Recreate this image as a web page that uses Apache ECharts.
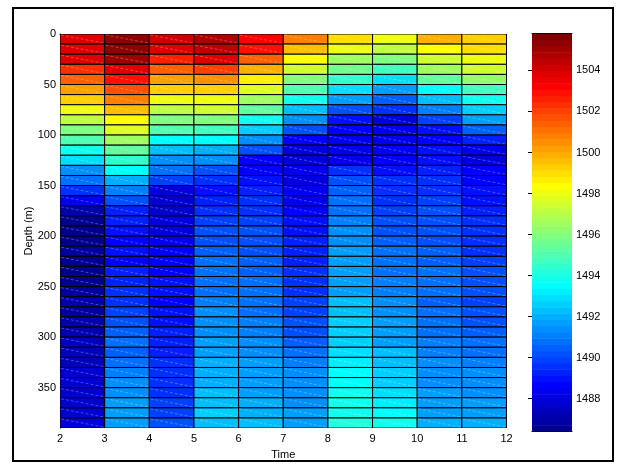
<!DOCTYPE html>
<html>
<head>
<meta charset="utf-8">
<script src="https://cdn.jsdelivr.net/npm/echarts@6/dist/echarts.min.js"></script>
<style>
  html, body { margin: 0; padding: 0; background: #fff; }
  #chart { width: 626px; height: 465px; }
</style>
</head>
<body>
<div id="chart"></div>
<script>
// Cell edges along time and depth
const timeEdges = [2, 3, 4, 5, 6, 7, 8, 9, 10, 11, 12];
const depthEdges = [0, 10, 20, 30, 40, 50, 60, 70, 80, 90, 100, 110, 120, 130, 140, 150, 160, 170, 180, 190,
  200, 210, 220, 230, 240, 250, 260, 270, 280, 290, 300, 310, 320, 330, 340, 350, 360, 370, 380, 390];

// Sound speed (m/s), one list per time step, top to bottom
const speedT2 = [1503.9, 1503.9, 1503.8, 1502.4, 1501.4, 1500.3, 1499.2, 1498.2, 1497.3, 1496.1, 1494.9, 1493.8, 1492.8,
  1491.5, 1490.8, 1489.55, 1488.3, 1487.15, 1486.55, 1486.5, 1486.55, 1486.85, 1486.6, 1486.7, 1486.6, 1486.85,
  1487.1, 1487.0, 1487.1, 1487.2, 1487.4, 1487.4, 1487.5, 1487.7, 1487.8, 1487.8, 1487.8, 1487.9, 1488.0];
const speedT3 = [1505.3, 1505.3, 1504.9, 1503.8, 1502.8, 1501.7, 1500.7, 1499.6, 1498.5, 1497.7, 1496.7, 1495.4, 1494.3,
  1493.5, 1492.1, 1491.25, 1490.3, 1489.4, 1489.2, 1489.0, 1488.6, 1489.1, 1488.8, 1489.4, 1489.4, 1489.6,
  1489.7, 1489.9, 1490.3, 1490.5, 1490.7, 1490.5, 1490.9, 1491.1, 1491.3, 1491.4, 1491.6, 1491.6, 1491.7];
const speedT4 = [1504.0, 1503.9, 1502.6, 1501.3, 1500.3, 1499.4, 1498.2, 1497.3, 1496.1, 1494.9, 1493.6, 1492.4, 1491.5,
  1490.9, 1489.9, 1488.1, 1487.9, 1487.8, 1488.1, 1488.1, 1488.4, 1488.6, 1488.8, 1488.7, 1488.9, 1488.9,
  1488.8, 1489.0, 1489.0, 1489.2, 1489.2, 1489.4, 1489.5, 1489.5, 1489.7, 1489.7, 1489.9, 1489.9, 1490.3];
const speedT5 = [1504.7, 1504.3, 1503.7, 1501.9, 1500.5, 1499.4, 1498.2, 1497.5, 1496.1, 1494.8, 1493.5, 1492.1, 1491.3,
  1490.3, 1489.55, 1489.1, 1489.4, 1489.5, 1489.9, 1490.1, 1490.3, 1490.5, 1490.7, 1490.7, 1490.7, 1490.7,
  1491.1, 1491.3, 1491.3, 1491.4, 1491.6, 1491.8, 1492.0, 1492.1, 1492.0, 1492.2, 1492.2, 1492.6, 1492.4];
const speedT6 = [1503.1, 1502.8, 1501.4, 1500.0, 1498.8, 1497.85, 1496.7, 1495.2, 1493.7, 1492.6, 1491.5, 1490.1, 1488.8,
  1488.7, 1489.0, 1489.4, 1489.5, 1489.7, 1489.9, 1490.1, 1490.1, 1490.3, 1490.5, 1490.5, 1490.7, 1490.7,
  1490.9, 1490.9, 1491.1, 1491.1, 1491.3, 1491.4, 1491.6, 1491.6, 1491.8, 1491.8, 1492.0, 1492.0, 1492.2];
const speedT7 = [1500.7, 1499.6, 1498.5, 1497.5, 1496.1, 1494.9, 1493.7, 1492.4, 1491.5, 1490.3, 1488.6, 1488.1, 1488.0,
  1488.3, 1488.1, 1488.3, 1488.5, 1488.7, 1489.0, 1489.0, 1489.2, 1489.4, 1489.4, 1489.5, 1489.7, 1489.7,
  1489.9, 1489.9, 1490.1, 1490.3, 1490.5, 1490.7, 1491.1, 1491.3, 1491.3, 1491.4, 1491.4, 1491.6, 1491.6];
const speedT8 = [1498.9, 1498.0, 1496.7, 1495.6, 1494.45, 1493.0, 1491.6, 1490.3, 1489.1, 1488.6, 1488.3, 1488.5, 1488.5,
  1489.7, 1490.1, 1490.5, 1490.7, 1490.9, 1491.1, 1491.3, 1491.3, 1491.6, 1491.6, 1491.8, 1491.6, 1491.8,
  1492.4, 1492.2, 1492.5, 1492.6, 1492.7, 1493.0, 1493.1, 1493.4, 1493.5, 1493.7, 1493.9, 1493.9, 1494.2];
const speedT9 = [1498.0, 1497.1, 1496.0, 1494.65, 1492.9, 1491.6, 1490.5, 1489.5, 1488.1, 1488.3, 1488.3, 1488.6, 1488.7,
  1489.0, 1489.5, 1489.5, 1489.7, 1489.9, 1490.1, 1490.3, 1490.5, 1490.7, 1490.7, 1490.9, 1491.1, 1491.1,
  1491.3, 1491.4, 1491.6, 1491.8, 1491.8, 1492.2, 1492.2, 1492.6, 1492.6, 1492.8, 1493.2, 1493.4, 1493.7];
const speedT10 = [1499.9, 1498.5, 1497.6, 1496.5, 1495.4, 1493.5, 1492.4, 1491.1, 1489.9, 1489.1, 1488.8, 1489.0, 1489.0,
  1489.4, 1489.7, 1489.7, 1489.9, 1490.1, 1490.3, 1490.3, 1490.3, 1490.5, 1490.5, 1490.7, 1490.7, 1490.7,
  1490.5, 1490.7, 1490.7, 1490.9, 1491.1, 1491.1, 1491.3, 1491.4, 1491.4, 1491.6, 1491.6, 1491.8, 1492.0];
const speedT11 = [1499.3, 1499.1, 1498.2, 1497.5, 1496.3, 1494.8, 1493.7, 1492.6, 1491.6, 1490.5, 1489.4, 1488.3, 1488.2,
  1488.7, 1488.7, 1489.0, 1489.0, 1489.4, 1489.5, 1489.5, 1489.7, 1489.7, 1489.9, 1490.1, 1490.1, 1490.3,
  1489.9, 1490.1, 1490.3, 1490.5, 1490.7, 1490.9, 1491.1, 1491.3, 1491.3, 1491.4, 1491.6, 1491.8, 1492.0];

const speedColumns = [speedT2, speedT3, speedT4, speedT5, speedT6, speedT7, speedT8, speedT9, speedT10, speedT11];

// Colour limits and colourbar tick labels
const colorMin = 1486.4;
const colorMax = 1505.8;
const colorTicks = [1488, 1490, 1492, 1494, 1496, 1498, 1500, 1502, 1504];
const depthTicks = [0, 50, 100, 150, 200, 250, 300, 350];

// 64-entry jet colormap
function buildJet(m) {
  const n = Math.ceil(m / 4);
  const u = [];
  for (let i = 1; i <= n; i++) u.push(i / n);
  for (let i = 1; i < n; i++) u.push(1);
  for (let i = n; i >= 1; i--) u.push(i / n);
  const start = Math.ceil(n / 2) - (m % 4 === 1 ? 1 : 0);
  const map = [];
  for (let i = 0; i < m; i++) map.push([0, 0, 0]);
  for (let k = 0; k < u.length; k++) {
    const g = start + k + 1, r = g + n, b = g - n;
    if (r >= 1 && r <= m) map[r - 1][0] = u[k];
    if (g >= 1 && g <= m) map[g - 1][1] = u[k];
    if (b >= 1 && b <= m) map[b - 1][2] = u[k];
  }
  return map.map(c => 'rgb(' + c.map(x => Math.round(x * 255)).join(',') + ')');
}
const jet = buildJet(64);
function jetColor(v) {
  let idx = Math.floor((v - colorMin) / (colorMax - colorMin) * jet.length);
  idx = Math.max(0, Math.min(jet.length - 1, idx));
  return jet[idx];
}

// Cells: [t0, t1, d0, d1, value]
const cells = [];
speedColumns.forEach((col, c) => {
  col.forEach((v, r) => {
    cells.push([timeEdges[c], timeEdges[c + 1], depthEdges[r], depthEdges[r + 1], v]);
  });
});

// Colourbar bands: [0, 1, lo, hi, mid]
const bands = [];
for (let i = 0; i < jet.length; i++) {
  const lo = colorMin + (colorMax - colorMin) * i / jet.length;
  const hi = colorMin + (colorMax - colorMin) * (i + 1) / jet.length;
  bands.push([0, 1, lo, hi, (lo + hi) / 2]);
}

const FONT = '"Liberation Sans", Arial, Helvetica, sans-serif';
const labelStyle = { color: '#000', fontSize: 11, fontFamily: FONT };

function renderCell(params, api) {
  const p0 = api.coord([api.value(0), api.value(2)]);
  const p1 = api.coord([api.value(1), api.value(3)]);
  const x = Math.min(p0[0], p1[0]), y = Math.min(p0[1], p1[1]);
  const w = Math.abs(p1[0] - p0[0]), h = Math.abs(p1[1] - p0[1]);
  return {
    type: 'group',
    children: [
      {
        type: 'rect',
        shape: { x: x, y: y, width: w, height: h },
        style: { fill: jetColor(api.value(4)), stroke: '#000', lineWidth: 1 }
      },
      {
        type: 'line',
        shape: { x1: x + 1, y1: y + 1, x2: x + w - 1, y2: y + h - 1 },
        style: { stroke: 'rgba(255,255,255,0.28)', lineWidth: 1, lineDash: [3, 2] },
        silent: true
      }
    ]
  };
}

function renderBand(params, api) {
  const p0 = api.coord([api.value(0), api.value(2)]);
  const p1 = api.coord([api.value(1), api.value(3)]);
  return {
    type: 'rect',
    shape: {
      x: Math.min(p0[0], p1[0]), y: Math.min(p0[1], p1[1]),
      width: Math.abs(p1[0] - p0[0]), height: Math.abs(p1[1] - p0[1]) + 0.5
    },
    style: { fill: jetColor(api.value(4)) }
  };
}

const chart = echarts.init(document.getElementById('chart'), null, { renderer: 'canvas' });
chart.setOption({
  backgroundColor: '#fff',
  animation: false,
  grid: [
    { left: 60, top: 34, width: 446.5, height: 397 },
    { left: 532, top: 33.5, width: 40, height: 398 }
  ],
  xAxis: [
    {
      gridIndex: 0, type: 'value', min: 2, max: 12, interval: 1,
      name: 'Time', nameLocation: 'middle', nameGap: 18,
      nameTextStyle: labelStyle,
      axisLine: { show: true, lineStyle: { color: '#000', width: 1 } },
      axisTick: { show: false },
      axisLabel: Object.assign({ margin: 5 }, labelStyle),
      splitLine: { show: false }
    },
    {
      gridIndex: 1, type: 'value', min: 0, max: 1,
      axisLine: { show: true, onZero: false, lineStyle: { color: '#000', width: 1 } },
      axisTick: { show: false }, axisLabel: { show: false }, splitLine: { show: false }
    },
    {
      gridIndex: 1, type: 'value', min: 0, max: 1, position: 'top',
      axisLine: { show: true, onZero: false, lineStyle: { color: '#000', width: 1 } },
      axisTick: { show: false }, axisLabel: { show: false }, splitLine: { show: false }
    }
  ],
  yAxis: [
    {
      gridIndex: 0, type: 'value', inverse: true, min: 0, max: 390, interval: 50,
      name: 'Depth (m)', nameLocation: 'middle', nameGap: 26, nameRotate: 90,
      nameMoveOverlap: false,
      nameTextStyle: labelStyle,
      axisLine: { show: true, lineStyle: { color: '#000', width: 1 } },
      axisTick: { show: false },
      axisLabel: Object.assign({
        margin: 4, showMaxLabel: false,
        formatter: v => (depthTicks.indexOf(v) >= 0 ? String(v) : '')
      }, labelStyle),
      splitLine: { show: false }
    },
    {
      gridIndex: 1, type: 'value', position: 'right', min: colorMin, max: colorMax,
      axisLine: { show: true, lineStyle: { color: '#000', width: 1 } },
      axisTick: { show: true, inside: true, length: 4, lineStyle: { color: '#000' }, customValues: colorTicks },
      axisLabel: Object.assign({ margin: 4, customValues: colorTicks, formatter: v => String(Math.round(v)) }, labelStyle),
      splitLine: { show: false }
    },
    {
      gridIndex: 1, type: 'value', position: 'left', min: colorMin, max: colorMax,
      axisLine: { show: true, lineStyle: { color: '#000', width: 1 } },
      axisTick: { show: true, inside: true, length: 4, lineStyle: { color: '#000' }, customValues: colorTicks },
      axisLabel: { show: false },
      splitLine: { show: false }
    }
  ],
  series: [
    {
      type: 'custom', xAxisIndex: 0, yAxisIndex: 0,
      renderItem: renderCell,
      data: cells,
      clip: true,
      z: 1
    },
    {
      type: 'custom', xAxisIndex: 1, yAxisIndex: 1,
      renderItem: renderBand,
      data: bands,
      clip: true,
      z: 1
    }
  ],
  graphic: [
    {
      type: 'rect', z: 100, silent: true,
      shape: { x: 13, y: 8, width: 600, height: 453 },
      style: { fill: 'none', stroke: '#000', lineWidth: 2 }
    }
  ]
});
</script>
</body>
</html>
